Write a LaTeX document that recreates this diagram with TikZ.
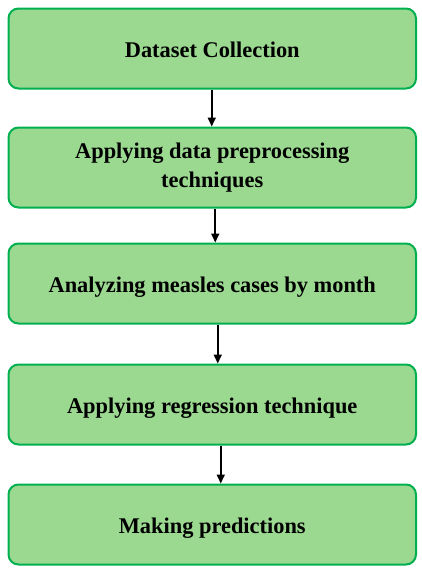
\documentclass[tikz,border=0pt]{standalone}
\usepackage{fontspec}
\setmainfont{Liberation Serif}
\usetikzlibrary{arrows.meta}
\definecolor{boxfill}{RGB}{155,216,144}
\definecolor{boxline}{RGB}{0,176,80}
\tikzset{
  stepbox/.style={draw=boxline, fill=boxfill, line width=2pt, rounded corners=10pt,
    minimum width=407.5pt, minimum height=80pt, inner sep=0pt, align=center,
    font=\fontsize{22.4}{29}\selectfont\bfseries},
  oneline/.style={text height=20pt, text depth=2pt},
  arr/.style={draw=black, line width=1.6pt, -{Triangle[length=9pt,width=8pt]}}
}
\begin{document}
\begin{tikzpicture}[x=1pt,y=-1pt]
\useasboundingbox (0,0) rectangle (422,571);
\node[stepbox,oneline] (b1) at (212.25,48.5) {Dataset Collection};
\node[stepbox] (b2) at (212.25,167.5) {Applying data preprocessing\\techniques};
\node[stepbox,oneline] (b3) at (212.25,283.5) {Analyzing measles cases by month};
\node[stepbox,oneline] (b4) at (212.25,404.5) {Applying regression technique};
\node[stepbox,oneline] (b5) at (212.25,524.5) {Making predictions};
\draw[arr] ([xshift=-0.5pt]b1.south) -- ([xshift=-0.5pt]b2.north);
\draw[arr] ([xshift=3pt]b2.south) -- ([xshift=3pt]b3.north);
\draw[arr] ([xshift=5.5pt]b3.south) -- ([xshift=5.5pt]b4.north);
\draw[arr] ([xshift=8.5pt]b4.south) -- ([xshift=8.5pt]b5.north);
\end{tikzpicture}
\end{document}
